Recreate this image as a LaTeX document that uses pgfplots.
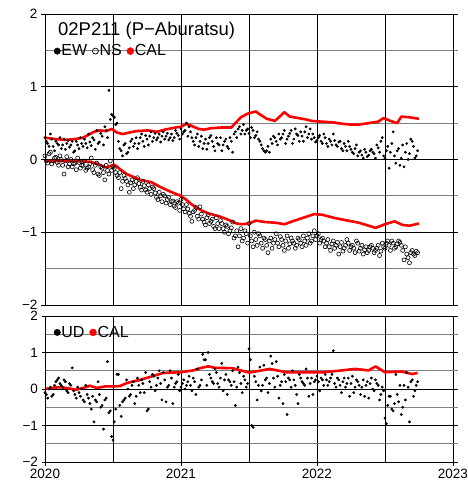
\documentclass[border=0pt]{standalone}
\usepackage{pgfplots}
\pgfplotsset{compat=1.18}
\usepackage{fontspec}
\setmainfont{Liberation Sans}
\usetikzlibrary{calc}

\pgfplotsset{
  gpsax/.style={
    scale only axis, width=413pt,
    xmin=2020, xmax=2023.037, ymin=-2, ymax=2,
    axis line style={draw=none},
    tick align=outside, major tick length=4pt, minor tick length=0pt,
    ytick={-2,-1,0,1,2}, yticklabels={−2,−1,0,1,2},
    minor ytick={-1.5,-0.5,0.5,1.5},
    ymajorgrids, yminorgrids,
    major grid style={black, line width=0.6pt},
    minor grid style={black!50, line width=0.8pt},
    ytick pos=left, xtick pos=bottom,
    tick style={black, line width=0.6pt},
    ticklabel style={font=\fontsize{13.5}{14}\selectfont},
    legend image code/.code={\path (0pt,0pt) (6pt,0pt); \draw[##1] plot coordinates {(3pt,0pt)};},
    legend style={draw=none, fill=none, inner sep=0pt, legend columns=-1,
      font=\fontsize{16}{17}\selectfont,
      /tikz/every even column/.append style={column sep=4pt},
      nodes={inner sep=1pt}},
  },
  ew/.style={only marks, mark=*, mark size=1.2pt, black},
  ns/.style={only marks, mark=o, mark size=2pt, black, mark options={line width=0.6pt}},
  cal/.style={red, line width=2.6pt, line join=round, no marks},
}

\begin{document}
\begin{tikzpicture}
\begin{axis}[gpsax, name=top, height=291pt,
  xtick=\empty,
  extra x ticks={2020,2020.5,2021,2021.5,2022,2022.5,2023},
  extra x tick labels={},
  extra x tick style={grid=major, major tick length=0pt},
  legend style={at={(axis cs:2020.065,1.49)}, anchor=west}]
\addlegendimage{only marks, mark=*, mark options={scale=1.6}, black}
\addlegendentry{EW}
\addlegendimage{only marks, mark=o, mark options={scale=1.5, line width=0.7pt}, black}
\addlegendentry{NS}
\addlegendimage{only marks, mark=*, mark options={scale=1.75}, red}
\addlegendentry{CAL}
% EW
\addplot[ew, forget plot] coordinates {
(2020.00,0.30)(2020.02,0.22)(2020.04,0.35)(2020.06,0.18)(2020.08,0.25)(2020.10,0.20)
(2020.12,0.15)(2020.14,0.28)(2020.16,0.22)(2020.18,0.17)(2020.20,0.25)(2020.22,0.12)
(2020.24,0.20)(2020.26,0.30)(2020.28,0.18)(2020.30,0.22)(2020.32,0.35)(2020.34,0.19)
(2020.36,0.27)(2020.38,0.40)(2020.40,0.24)(2020.42,0.32)(2020.44,0.45)(2020.46,0.30)
(2020.47,0.95)(2020.48,0.55)(2020.49,0.62)(2020.50,0.60)(2020.51,0.58)(2020.52,0.48)
(2020.53,0.50)(2020.54,0.25)(2020.56,0.12)(2020.58,0.20)(2020.60,0.08)(2020.62,0.16)
(2020.64,0.28)(2020.66,0.22)(2020.68,0.15)(2020.70,0.30)(2020.72,0.25)(2020.74,0.33)
(2020.76,0.20)(2020.78,0.38)(2020.80,0.30)(2020.82,0.27)(2020.84,0.35)(2020.86,0.32)
(2020.88,0.28)(2020.90,0.36)(2020.92,0.30)(2020.94,0.26)(2020.96,0.40)(2020.98,0.33)
(2021.00,0.42)(2021.02,0.38)(2021.04,0.50)(2021.06,0.45)(2021.08,0.30)(2021.10,0.20)
(2021.12,0.35)(2021.14,0.25)(2021.16,0.15)(2021.18,0.28)(2021.20,0.22)(2021.22,0.33)
(2021.24,0.18)(2021.26,0.30)(2021.28,0.20)(2021.30,0.12)(2021.32,0.25)(2021.34,0.18)
(2021.36,0.30)(2021.38,0.10)(2021.40,0.38)(2021.42,0.42)(2021.44,0.35)(2021.46,0.48)
(2021.48,0.40)(2021.50,0.36)(2021.52,0.44)(2021.54,0.30)(2021.56,0.38)(2021.58,0.25)
(2021.60,0.15)(2021.62,0.10)(2021.63,0.12)(2021.64,0.18)(2021.66,0.28)(2021.68,0.32)
(2021.70,0.25)(2021.72,0.35)(2021.74,0.30)(2021.76,0.40)(2021.78,0.28)(2021.80,0.36)
(2021.82,0.22)(2021.84,0.42)(2021.86,0.33)(2021.88,0.38)(2021.90,0.25)(2021.92,0.45)
(2021.94,0.35)(2021.96,0.28)(2021.98,0.30)(2022.00,0.26)(2022.02,0.33)(2022.04,0.22)
(2022.06,0.30)(2022.08,0.18)(2022.10,0.25)(2022.12,0.35)(2022.14,0.20)(2022.16,0.24)
(2022.18,0.15)(2022.20,0.22)(2022.22,0.12)(2022.24,0.18)(2022.26,0.10)(2022.28,0.15)
(2022.30,0.05)(2022.32,0.12)(2022.34,0.02)(2022.36,0.10)(2022.38,0.06)(2022.40,0.14)
(2022.42,0.08)(2022.44,0.20)(2022.46,0.10)(2022.48,0.30)(2022.50,0.02)(2022.52,0.18)
(2022.54,0.10)(2022.56,0.38)(2022.58,-0.05)(2022.60,0.15)(2022.62,0.02)(2022.64,-0.10)
(2022.66,0.22)(2022.68,0.08)(2022.70,0.25)(2022.72,0.02)(2022.74,0.12)
};
\addplot[ew, forget plot] coordinates {
(2020.01,0.25)(2020.03,0.18)(2020.05,0.28)(2020.07,0.12)(2020.09,0.22)(2020.11,0.30)
(2020.13,0.20)(2020.15,0.14)(2020.17,0.26)(2020.19,0.20)(2020.21,0.10)(2020.23,0.25)
(2020.25,0.15)(2020.27,0.22)(2020.29,0.28)(2020.31,0.16)(2020.33,0.24)(2020.35,0.30)
(2020.37,0.14)(2020.39,0.22)(2020.41,0.36)(2020.43,0.20)(2020.45,0.40)(2020.55,0.15)
(2020.57,0.05)(2020.59,0.22)(2020.61,0.10)(2020.63,0.25)(2020.65,0.18)(2020.67,0.30)
(2020.69,0.22)(2020.71,0.35)(2020.73,0.18)(2020.75,0.28)(2020.77,0.32)(2020.79,0.25)
(2020.81,0.36)(2020.83,0.30)(2020.85,0.24)(2020.87,0.38)(2020.89,0.32)(2020.91,0.27)
(2020.93,0.35)(2020.95,0.30)(2020.97,0.36)(2020.99,0.28)(2021.01,0.35)(2021.03,0.40)
(2021.05,0.32)(2021.07,0.38)(2021.09,0.25)(2021.11,0.30)(2021.13,0.18)(2021.15,0.32)
(2021.17,0.22)(2021.19,0.14)(2021.21,0.30)(2021.23,0.25)(2021.25,0.12)(2021.27,0.22)
(2021.29,0.30)(2021.31,0.20)(2021.33,0.28)(2021.35,0.15)(2021.37,0.25)(2021.39,0.35)
(2021.41,0.30)(2021.43,0.45)(2021.45,0.40)(2021.47,0.35)(2021.49,0.42)(2021.51,0.30)
(2021.53,0.40)(2021.55,0.33)(2021.57,0.28)(2021.59,0.20)(2021.61,0.12)(2021.65,0.10)
(2021.67,0.22)(2021.69,0.30)(2021.71,0.20)(2021.73,0.28)(2021.75,0.35)(2021.77,0.22)
(2021.79,0.32)(2021.81,0.40)(2021.83,0.28)(2021.85,0.35)(2021.87,0.25)(2021.89,0.32)
(2021.91,0.38)(2021.93,0.30)(2021.95,0.42)(2021.97,0.35)(2021.99,0.24)(2022.01,0.30)
(2022.03,0.25)(2022.05,0.35)(2022.07,0.22)(2022.09,0.28)(2022.11,0.20)(2022.13,0.26)
(2022.15,0.18)(2022.17,0.25)(2022.19,0.12)(2022.21,0.18)(2022.23,0.25)(2022.25,0.14)
(2022.27,0.08)(2022.29,0.20)(2022.31,0.10)(2022.33,0.06)(2022.35,0.14)(2022.37,0.04)
(2022.39,0.12)(2022.41,0.10)(2022.43,0.02)(2022.45,0.16)(2022.47,0.25)(2022.49,0.05)
(2022.51,0.12)(2022.53,-0.12)(2022.55,0.22)(2022.57,0.05)(2022.59,0.12)(2022.61,-0.08)
(2022.63,0.20)(2022.65,0.10)(2022.67,0.00)(2022.69,0.28)(2022.71,0.18)(2022.73,0.05)
};
% NS
\addplot[ns, forget plot] coordinates {
(2020.00,0.05)(2020.02,-0.05)(2020.04,0.10)(2020.06,-0.02)(2020.08,0.03)(2020.10,-0.08)
(2020.12,0.00)(2020.14,-0.20)(2020.16,0.04)(2020.18,-0.06)(2020.20,-0.10)(2020.22,-0.05)
(2020.24,0.02)(2020.26,-0.12)(2020.28,-0.08)(2020.30,-0.15)(2020.32,-0.10)(2020.34,0.02)
(2020.36,-0.18)(2020.38,-0.05)(2020.40,-0.22)(2020.42,-0.12)(2020.44,-0.28)(2020.46,-0.15)
(2020.48,-0.02)(2020.50,-0.10)(2020.52,-0.18)(2020.54,-0.25)(2020.56,-0.40)(2020.58,-0.22)
(2020.60,-0.30)(2020.62,-0.45)(2020.64,-0.28)(2020.66,-0.35)(2020.68,-0.25)(2020.70,-0.38)
(2020.72,-0.30)(2020.74,-0.42)(2020.76,-0.35)(2020.78,-0.48)(2020.80,-0.40)(2020.82,-0.52)
(2020.84,-0.45)(2020.86,-0.58)(2020.88,-0.50)(2020.90,-0.55)(2020.92,-0.62)(2020.94,-0.57)
(2020.96,-0.66)(2020.98,-0.60)(2021.00,-0.55)(2021.02,-0.68)(2021.04,-0.62)(2021.06,-0.74)
(2021.08,-0.85)(2021.10,-0.70)(2021.12,-0.78)(2021.14,-0.65)(2021.16,-0.82)(2021.18,-0.90)
(2021.20,-0.76)(2021.22,-0.85)(2021.24,-0.92)(2021.26,-0.80)(2021.28,-0.95)(2021.30,-0.88)
(2021.32,-1.00)(2021.34,-0.92)(2021.36,-0.98)(2021.38,-0.86)(2021.40,-1.05)(2021.42,-1.20)
(2021.44,-0.95)(2021.46,-1.08)(2021.48,-1.02)(2021.50,-0.88)(2021.52,-1.12)(2021.54,-1.00)
(2021.56,-1.18)(2021.58,-1.05)(2021.60,-1.22)(2021.62,-1.10)(2021.64,-1.28)(2021.66,-1.08)
(2021.68,-1.15)(2021.70,-1.02)(2021.72,-1.20)(2021.74,-1.10)(2021.76,-1.25)(2021.78,-1.05)
(2021.80,-1.16)(2021.82,-1.12)(2021.84,-1.22)(2021.86,-1.08)(2021.88,-1.15)(2021.90,-1.05)
(2021.92,-1.18)(2021.94,-1.02)(2021.96,-1.12)(2021.98,-0.98)(2022.00,-1.05)(2022.02,-1.15)
(2022.04,-1.08)(2022.06,-1.20)(2022.08,-1.10)(2022.10,-1.25)(2022.12,-1.12)(2022.14,-1.18)
(2022.16,-1.30)(2022.18,-1.14)(2022.20,-1.22)(2022.22,-1.10)(2022.24,-1.25)(2022.26,-1.18)
(2022.28,-1.28)(2022.30,-1.15)(2022.32,-1.22)(2022.34,-1.30)(2022.36,-1.20)(2022.38,-1.25)
(2022.40,-1.18)(2022.42,-1.28)(2022.44,-1.22)(2022.46,-1.32)(2022.48,-1.15)(2022.50,-1.22)
(2022.52,-1.12)(2022.54,-1.25)(2022.56,-1.15)(2022.58,-1.20)(2022.60,-1.12)(2022.62,-1.18)
(2022.64,-1.38)(2022.66,-1.30)(2022.68,-1.42)(2022.70,-1.25)(2022.72,-1.32)(2022.74,-1.28)
};
\addplot[ns, forget plot] coordinates {
(2020.01,-0.02)(2020.03,0.08)(2020.05,-0.06)(2020.07,0.02)(2020.09,-0.04)(2020.11,0.05)
(2020.13,-0.08)(2020.15,-0.02)(2020.17,-0.10)(2020.19,0.00)(2020.21,-0.06)(2020.23,-0.14)
(2020.25,-0.04)(2020.27,-0.08)(2020.29,-0.02)(2020.31,-0.12)(2020.33,-0.06)(2020.35,-0.14)
(2020.37,-0.08)(2020.39,-0.20)(2020.41,-0.10)(2020.43,-0.18)(2020.45,-0.08)(2020.47,-0.20)
(2020.49,-0.15)(2020.51,-0.12)(2020.53,-0.22)(2020.55,-0.18)(2020.57,-0.30)(2020.59,-0.26)
(2020.61,-0.35)(2020.63,-0.32)(2020.65,-0.40)(2020.67,-0.30)(2020.69,-0.33)(2020.71,-0.42)
(2020.73,-0.36)(2020.75,-0.45)(2020.77,-0.40)(2020.79,-0.38)(2020.81,-0.46)(2020.83,-0.55)
(2020.85,-0.50)(2020.87,-0.48)(2020.89,-0.60)(2020.91,-0.52)(2020.93,-0.58)(2020.95,-0.64)
(2020.97,-0.58)(2020.99,-0.70)(2021.01,-0.62)(2021.03,-0.72)(2021.05,-0.68)(2021.07,-0.78)
(2021.09,-0.72)(2021.11,-0.66)(2021.13,-0.82)(2021.15,-0.75)(2021.17,-0.86)(2021.19,-0.80)
(2021.21,-0.88)(2021.23,-0.82)(2021.25,-0.95)(2021.27,-0.88)(2021.29,-0.84)(2021.31,-0.95)
(2021.33,-0.90)(2021.35,-1.02)(2021.37,-0.94)(2021.39,-1.08)(2021.41,-0.98)(2021.43,-1.05)
(2021.45,-1.12)(2021.47,-0.98)(2021.49,-1.15)(2021.51,-1.05)(2021.53,-1.20)(2021.55,-1.10)
(2021.57,-1.02)(2021.59,-1.15)(2021.61,-1.08)(2021.63,-1.18)(2021.65,-1.12)(2021.67,-1.22)
(2021.69,-1.10)(2021.71,-1.15)(2021.73,-1.06)(2021.75,-1.18)(2021.77,-1.12)(2021.79,-1.22)
(2021.81,-1.08)(2021.83,-1.15)(2021.85,-1.18)(2021.87,-1.10)(2021.89,-1.20)(2021.91,-1.12)
(2021.93,-1.08)(2021.95,-1.15)(2021.97,-1.05)(2021.99,-1.10)(2022.01,-1.02)(2022.03,-1.10)
(2022.05,-1.12)(2022.07,-1.15)(2022.09,-1.20)(2022.11,-1.16)(2022.13,-1.22)(2022.15,-1.14)
(2022.17,-1.20)(2022.19,-1.26)(2022.21,-1.18)(2022.23,-1.15)(2022.25,-1.20)(2022.27,-1.22)
(2022.29,-1.12)(2022.31,-1.26)(2022.33,-1.18)(2022.35,-1.24)(2022.37,-1.28)(2022.39,-1.20)
(2022.41,-1.22)(2022.43,-1.25)(2022.45,-1.18)(2022.47,-1.26)(2022.49,-1.20)(2022.51,-1.15)
(2022.53,-1.18)(2022.55,-1.12)(2022.57,-1.22)(2022.59,-1.16)(2022.61,-1.14)(2022.63,-1.25)
(2022.65,-1.20)(2022.67,-1.35)(2022.69,-1.28)(2022.71,-1.30)(2022.73,-1.26)
};
% CAL (EW)
\addplot[cal, forget plot] coordinates {
(2020.00,0.30)(2020.04,0.29)(2020.08,0.28)(2020.15,0.27)(2020.22,0.28)(2020.28,0.30)
(2020.33,0.35)(2020.36,0.38)(2020.40,0.40)(2020.45,0.39)(2020.49,0.42)(2020.53,0.37)
(2020.57,0.35)(2020.62,0.37)(2020.67,0.39)(2020.76,0.40)(2020.82,0.38)(2020.88,0.41)
(2020.96,0.44)(2021.00,0.45)(2021.04,0.49)(2021.08,0.46)(2021.13,0.42)(2021.17,0.41)
(2021.22,0.43)(2021.30,0.44)(2021.37,0.44)(2021.40,0.50)(2021.44,0.58)(2021.49,0.63)
(2021.55,0.66)(2021.58,0.62)(2021.63,0.56)(2021.69,0.53)(2021.72,0.58)(2021.76,0.65)
(2021.80,0.59)(2021.86,0.57)(2021.92,0.55)(2021.96,0.53)(2022.04,0.52)(2022.12,0.51)
(2022.19,0.49)(2022.25,0.48)(2022.31,0.48)(2022.38,0.50)(2022.45,0.52)(2022.49,0.57)
(2022.54,0.53)(2022.59,0.50)(2022.62,0.59)(2022.68,0.58)(2022.75,0.56)
};
% CAL (NS)
\addplot[cal, forget plot] coordinates {
(2020.00,-0.02)(2020.10,-0.02)(2020.20,-0.02)(2020.33,-0.03)(2020.40,-0.07)(2020.45,-0.11)
(2020.51,-0.07)(2020.55,-0.13)(2020.60,-0.20)(2020.65,-0.24)(2020.70,-0.28)(2020.78,-0.31)
(2020.85,-0.38)(2020.92,-0.44)(2021.00,-0.50)(2021.05,-0.57)(2021.08,-0.62)(2021.15,-0.70)
(2021.20,-0.74)(2021.28,-0.78)(2021.35,-0.83)(2021.41,-0.88)(2021.45,-0.89)(2021.50,-0.88)
(2021.55,-0.84)(2021.62,-0.86)(2021.70,-0.87)(2021.76,-0.89)(2021.82,-0.85)(2021.90,-0.80)
(2021.98,-0.75)(2022.04,-0.76)(2022.12,-0.80)(2022.20,-0.83)(2022.31,-0.87)(2022.38,-0.91)
(2022.43,-0.94)(2022.50,-0.89)(2022.57,-0.85)(2022.63,-0.90)(2022.68,-0.91)(2022.75,-0.88)
};
\draw[line width=1pt] (rel axis cs:0,0) -- (rel axis cs:0,1);
\node[anchor=base west, inner sep=0pt, font=\fontsize{18.5}{19}\selectfont] at (axis cs:2020.095,1.70) {02P211 (P−Aburatsu)};
\node[anchor=east, xshift=-6pt, inner sep=0pt, font=\fontsize{10.5}{11}\selectfont] at (axis cs:2020,-0.17) {(cm)};
\end{axis}

\begin{axis}[gpsax, name=bot, height=146pt,
  at={(top.south west)}, anchor=north west, yshift=-11pt,
  major tick length=3.5pt,
  xtick={2020,2021,2022,2023},
  xticklabels={2020,2021,2022,2023},
  xmajorgrids,
  extra x ticks={2020.5,2021.5,2022.5},
  extra x tick labels={},
  extra x tick style={grid=major, major tick length=0pt},
  legend style={at={(axis cs:2020.065,1.55)}, anchor=west}]
\addlegendimage{only marks, mark=*, mark options={scale=1.6}, black}
\addlegendentry{UD}
\addlegendimage{only marks, mark=*, mark options={scale=1.75}, red}
\addlegendentry{CAL}
% UD
\addplot[ew, forget plot] coordinates {
(2020.00,-0.10)(2020.02,-0.25)(2020.04,0.05)(2020.06,-0.15)(2020.08,0.20)(2020.10,0.30)
(2020.12,0.10)(2020.14,0.25)(2020.16,-0.05)(2020.18,0.15)(2020.20,0.58)(2020.22,-0.15)
(2020.24,0.05)(2020.26,-0.20)(2020.28,-0.30)(2020.30,0.10)(2020.32,-0.25)(2020.34,-0.55)
(2020.36,-0.90)(2020.38,-0.35)(2020.40,-0.15)(2020.42,-0.45)(2020.43,-1.10)(2020.44,-0.30)
(2020.46,0.75)(2020.48,-0.60)(2020.49,-1.30)(2020.50,-1.40)(2020.52,-0.55)(2020.54,0.40)
(2020.56,-0.75)(2020.58,-0.30)(2020.60,0.25)(2020.62,-0.20)(2020.64,0.10)(2020.66,-0.40)
(2020.68,0.30)(2020.70,-0.10)(2020.72,0.15)(2020.74,0.45)(2020.76,-0.55)(2020.78,0.05)
(2020.80,0.35)(2020.82,0.10)(2020.84,0.50)(2020.86,-0.30)(2020.88,0.25)(2020.90,0.05)
(2020.92,0.50)(2020.94,-0.40)(2020.96,0.15)(2020.98,0.40)(2021.00,0.05)(2021.02,0.25)
(2021.04,0.10)(2021.06,0.35)(2021.08,-0.05)(2021.10,0.20)(2021.12,0.55)(2021.14,0.10)
(2021.16,0.95)(2021.18,0.80)(2021.20,1.00)(2021.22,0.30)(2021.24,0.15)(2021.26,0.45)
(2021.28,0.05)(2021.30,0.70)(2021.32,0.25)(2021.34,-0.15)(2021.36,0.20)(2021.38,0.50)
(2021.40,-0.45)(2021.42,0.60)(2021.44,0.15)(2021.46,0.35)(2021.48,0.05)(2021.50,1.10)
(2021.52,-1.00)(2021.54,0.35)(2021.56,-0.30)(2021.58,0.60)(2021.60,0.10)(2021.62,0.25)
(2021.64,-0.10)(2021.66,0.90)(2021.68,0.30)(2021.70,0.75)(2021.72,-0.25)(2021.74,0.20)
(2021.76,0.40)(2021.78,-0.70)(2021.80,0.25)(2021.82,0.50)(2021.84,0.10)(2021.86,-0.40)
(2021.88,0.30)(2021.90,0.15)(2021.92,0.55)(2021.94,-0.20)(2021.96,0.30)(2021.98,0.20)
(2022.00,0.35)(2022.02,-0.05)(2022.04,0.25)(2022.06,0.40)(2022.08,0.10)(2022.10,0.30)
(2022.12,1.05)(2022.14,0.05)(2022.16,0.25)(2022.18,-0.10)(2022.20,0.30)(2022.22,0.15)
(2022.24,-0.20)(2022.26,0.35)(2022.28,0.05)(2022.30,0.20)(2022.32,-0.15)(2022.34,0.25)
(2022.36,0.10)(2022.38,-0.25)(2022.40,0.30)(2022.42,-0.05)(2022.44,0.15)(2022.46,-0.30)
(2022.48,0.05)(2022.50,-0.80)(2022.52,-0.45)(2022.54,-0.20)(2022.56,-0.60)(2022.58,0.40)
(2022.60,-0.35)(2022.62,-0.70)(2022.64,0.10)(2022.66,0.45)(2022.68,-0.90)(2022.70,0.25)
(2022.72,-0.05)(2022.74,0.20)
};
\addplot[ew, forget plot] coordinates {
(2020.01,-0.15)(2020.03,0.00)(2020.05,-0.20)(2020.07,0.10)(2020.09,0.25)(2020.11,0.15)
(2020.13,0.05)(2020.15,0.20)(2020.17,-0.10)(2020.19,0.10)(2020.21,-0.05)(2020.23,-0.25)
(2020.25,-0.10)(2020.27,0.00)(2020.29,-0.35)(2020.31,-0.15)(2020.33,-0.40)(2020.35,-0.20)
(2020.37,-0.30)(2020.39,0.20)(2020.41,-0.50)(2020.45,-0.25)(2020.47,-0.65)(2020.51,-0.90)
(2020.53,0.40)(2020.55,-0.45)(2020.57,-0.35)(2020.59,-0.25)(2020.61,0.00)(2020.63,-0.15)
(2020.65,0.20)(2020.67,-0.20)(2020.69,0.10)(2020.71,0.25)(2020.73,-0.10)(2020.75,-0.60)
(2020.77,0.20)(2020.79,0.40)(2020.81,-0.05)(2020.83,0.30)(2020.85,0.15)(2020.87,0.45)
(2020.89,-0.35)(2020.91,0.10)(2020.93,0.30)(2020.95,0.05)(2020.97,0.20)(2020.99,-0.05)
(2021.01,0.15)(2021.03,0.00)(2021.05,0.20)(2021.07,0.10)(2021.09,0.30)(2021.11,-0.15)
(2021.13,0.05)(2021.15,0.25)(2021.17,0.80)(2021.19,0.10)(2021.21,0.40)(2021.23,0.20)
(2021.25,0.55)(2021.27,0.15)(2021.29,0.30)(2021.31,-0.05)(2021.33,0.40)(2021.35,0.25)
(2021.37,0.10)(2021.39,0.20)(2021.41,0.05)(2021.43,0.45)(2021.45,-0.10)(2021.47,0.25)
(2021.49,0.15)(2021.51,0.80)(2021.53,-1.05)(2021.55,0.20)(2021.57,0.10)(2021.59,-0.05)
(2021.61,0.65)(2021.63,0.30)(2021.65,0.15)(2021.67,0.70)(2021.69,0.05)(2021.71,0.35)
(2021.73,0.10)(2021.75,-0.40)(2021.77,0.20)(2021.79,0.30)(2021.81,0.05)(2021.83,0.25)
(2021.85,-0.15)(2021.87,0.40)(2021.89,0.20)(2021.91,0.10)(2021.93,0.30)(2021.95,0.15)
(2021.97,-0.15)(2021.99,0.25)(2022.01,0.20)(2022.03,0.30)(2022.05,0.10)(2022.07,0.25)
(2022.09,0.20)(2022.11,0.40)(2022.13,0.15)(2022.15,0.30)(2022.17,0.10)(2022.19,0.20)
(2022.21,0.05)(2022.23,0.30)(2022.25,0.15)(2022.27,-0.10)(2022.29,0.25)(2022.31,0.10)
(2022.33,0.05)(2022.35,-0.20)(2022.37,0.20)(2022.39,0.15)(2022.41,0.00)(2022.43,0.25)
(2022.45,0.10)(2022.47,-0.15)(2022.49,-0.05)(2022.51,-0.95)(2022.53,-0.20)(2022.55,-0.55)
(2022.57,-0.40)(2022.59,-0.15)(2022.61,0.10)(2022.63,-0.50)(2022.65,-0.30)(2022.67,0.05)
(2022.69,0.20)(2022.71,-0.20)(2022.73,0.10)
};
% CAL (UD)
\addplot[cal, forget plot] coordinates {
(2020.00,0.00)(2020.05,0.03)(2020.11,0.05)(2020.17,0.02)(2020.23,-0.02)(2020.30,0.05)
(2020.33,0.09)(2020.38,0.03)(2020.44,0.07)(2020.49,0.07)(2020.55,0.08)(2020.60,0.16)
(2020.65,0.21)(2020.70,0.25)(2020.77,0.33)(2020.87,0.44)(2021.00,0.46)(2021.09,0.51)
(2021.15,0.58)(2021.20,0.62)(2021.25,0.58)(2021.38,0.57)(2021.45,0.50)(2021.50,0.45)
(2021.58,0.50)(2021.65,0.55)(2021.72,0.50)(2021.77,0.46)(2021.91,0.46)(2022.05,0.46)
(2022.16,0.50)(2022.28,0.55)(2022.38,0.51)(2022.43,0.62)(2022.50,0.46)(2022.62,0.48)
(2022.70,0.41)(2022.74,0.44)
};
\draw[line width=1pt] (rel axis cs:0,0) -- (rel axis cs:0,1);
\node[anchor=east, xshift=-6pt, inner sep=0pt, font=\fontsize{10.5}{11}\selectfont] at (axis cs:2020,-0.48) {(cm)};
\end{axis}
\pgfresetboundingbox
\path[use as bounding box] ($(top.north west)+(-45pt,14pt)$) rectangle ($(bot.south west)+(422pt,-23pt)$);
\end{tikzpicture}
\end{document}
